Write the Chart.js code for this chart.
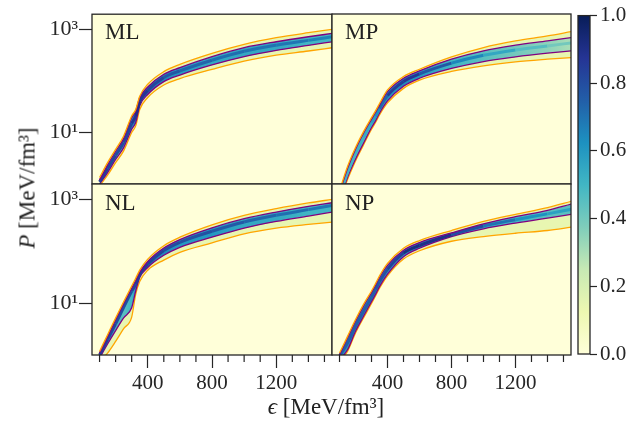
<!DOCTYPE html>
<html>
<head>
<meta charset="utf-8">
<script src="https://cdn.jsdelivr.net/npm/chart.js@4.4.1/dist/chart.umd.min.js"></script>
<style>
  body { margin: 0; background: #fff; }
  #wrap { position: relative; width: 630px; height: 423px; font-family: 'Liberation Serif', 'DejaVu Serif', serif; color: #222; }
  canvas { position: absolute; left: 0; top: 0; }
  .tag { position: absolute; font-size: 23px; line-height: 1; white-space: nowrap; }
  .title { position: absolute; font-size: 23px; line-height: 1; white-space: nowrap; }
  #ytitle { left: 27px; top: 188px; transform: translate(-50%, -50%) rotate(-90deg); }
  #xtitle { left: 326px; top: 395px; transform: translateX(-50%); }
</style>
</head>
<body>
<div id="wrap">
  <canvas id="ml" width="630" height="423"></canvas>
  <canvas id="mp" width="630" height="423"></canvas>
  <canvas id="nl" width="630" height="423"></canvas>
  <canvas id="np" width="630" height="423"></canvas>
  <canvas id="cb" width="630" height="423"></canvas>
  <div class="tag" style="left:105px;top:20px">ML</div>
  <div class="tag" style="left:345px;top:20px">MP</div>
  <div class="tag" style="left:105px;top:191px">NL</div>
  <div class="tag" style="left:345px;top:191px">NP</div>
  <div class="title" id="ytitle"><i>P</i> [MeV/fm³]</div>
  <div class="title" id="xtitle"><i>ϵ</i> [MeV/fm³]</div>
</div>
<script>
// energy density grid (MeV/fm^3) shared by every panel
const eps = [100, 150, 200, 250, 300, 325, 350, 400, 500, 600, 800, 1000, 1200, 1400, 1550];
const epsTicks = [100, 200, 300, 400, 500, 600, 700, 800, 900, 1000, 1100, 1200, 1300, 1400, 1500];
const epsLabels = [400, 800, 1200];
const pTicks = [10, 1000];
const pTickLabels = ['10¹', '10³'];
const cbTicks = [0, 0.2, 0.4, 0.6, 0.8, 1.0];
const ylgnbu = ['#ffffd9', '#edf8b1', '#c7e9b4', '#7fcdbb', '#41b6c4', '#1d91c0', '#225ea8', '#253494', '#081d58'];

// ML
const mlOuterHi = [1.34, 2.6, 4.7, 8.6, 21, 28, 51, 87, 153, 212, 347, 518, 698, 873, 1014];
const mlInnerHi = [1.2, 2.36, 4.3, 7.7, 19.5, 26, 48, 77, 136, 183, 299, 447, 583, 729, 847];
const mlInnerLo = [0.99, 1.67, 3.0, 5.1, 11.6, 15.6, 33, 55, 98, 131, 206, 299, 396, 495, 583];
const mlOuterLo = [0.92, 1.48, 2.6, 4.4, 10, 13.5, 28, 48, 84, 112, 169, 246, 321, 385, 447];
const mlRidge = [1.1, 2.0, 3.6, 6.4, 15, 21, 40, 66, 118, 158, 255, 380, 500, 620, 730];
const mlBand = [0.6, 0.6, 0.5, 0.5, 0.6, 0.7, 0.75, 0.7, 0.65, 0.6, 0.55, 0.55, 0.55, 0.5, 0.5];
const mlPeak = [0.85, 0.85, 0.8, 0.8, 0.85, 0.9, 0.9, 0.85, 0.8, 0.75, 0.72, 0.7, 0.7, 0.68, 0.65];

// MP
const mpOuterHi = [0.74, 2.18, 5.1, 10.4, 19.5, 26.3, 36.5, 67, 122, 169, 294, 447, 601, 752, 912];
const mpInnerHi = [0.68, 2.0, 4.74, 9.7, 18.1, 24.4, 33.9, 62, 113, 157, 265, 385, 495, 601, 698];
const mpInnerLo = [0.47, 1.34, 3.03, 6.2, 12.5, 16.8, 23.7, 41, 79, 113, 175, 239, 294, 347, 385];
const mpOuterLo = [0.44, 1.22, 2.81, 5.75, 11.6, 15.6, 22, 37.6, 72, 104, 153, 197, 235, 265, 286];
const mpRidge = [0.6, 1.65, 3.9, 7.9, 15.3, 20.5, 29, 52, 98, 137, 222, 315, 400, 480, 550];
const mpBand = [0.45, 0.45, 0.45, 0.45, 0.45, 0.5, 0.5, 0.6, 0.65, 0.6, 0.5, 0.45, 0.4, 0.35, 0.3];
const mpPeak = [0.5, 0.5, 0.5, 0.52, 0.55, 0.6, 0.65, 0.8, 0.9, 0.85, 0.7, 0.6, 0.5, 0.42, 0.38];

// NL
const nlOuterHi = [1.17, 2.47, 5.2, 10.7, 21.5, 30.3, 43.4, 71, 129, 188, 326, 495, 668, 861, 1014];
const nlInnerHi = [1.09, 2.26, 4.76, 9.75, 19.4, 27.7, 39.7, 64, 116, 169, 285, 427, 575, 741, 873];
const nlInnerLo = [0.87, 1.63, 2.96, 5.2, 8.2, 17.2, 31.3, 49, 84, 120, 188, 281, 379, 481, 575];
const nlOuterLo = [0.75, 1.09, 1.83, 3.23, 5.4, 14.8, 26.1, 43.4, 68, 96, 146, 218, 281, 331, 367];
const nlRidge = [1.0, 2.0, 4.0, 8.3, 17, 23, 36, 57, 104, 150, 245, 370, 500, 640, 770];
const nlBand = [0.55, 0.6, 0.5, 0.45, 0.5, 0.6, 0.7, 0.7, 0.65, 0.6, 0.6, 0.55, 0.55, 0.5, 0.5];
const nlPeak = [0.85, 0.85, 0.8, 0.8, 0.8, 0.85, 0.85, 0.85, 0.82, 0.8, 0.78, 0.75, 0.72, 0.7, 0.68];

// NP
const npOuterHi = [1.09, 2.29, 4.84, 9.5, 17.2, 23.9, 33.7, 58.6, 115, 162, 253, 379, 518, 698, 927];
const npInnerHi = [1.01, 2.13, 4.49, 8.8, 16, 22.2, 31.3, 53.6, 105, 148, 228, 341, 467, 619, 822];
const npInnerLo = [0.81, 1.26, 2.87, 5.6, 10.7, 14.8, 20.9, 36.3, 79, 115, 193, 273, 352, 440, 518];
const npOuterLo = [0.75, 1.17, 2.66, 5.2, 9.9, 13.8, 19.4, 33.7, 71, 103, 157, 193, 224, 253, 294];
const npRidge = [0.95, 1.7, 3.6, 7.0, 13, 18.5, 26, 45, 93, 130, 210, 310, 410, 530, 650];
const npBand = [0.6, 0.6, 0.6, 0.6, 0.6, 0.6, 0.6, 0.6, 0.6, 0.65, 0.6, 0.55, 0.5, 0.45, 0.45];
const npPeak = [0.75, 0.75, 0.75, 0.75, 0.75, 0.76, 0.78, 0.8, 0.88, 0.95, 0.85, 0.75, 0.65, 0.6, 0.55];

const ink = '#262626';
const orange = '#ffa500';
const purple = '#800080';

Chart.defaults.font.family = "'Liberation Serif', 'DejaVu Serif', serif";
Chart.defaults.font.size = 21;
Chart.defaults.color = ink;

const hexToRgb = h => [1, 3, 5].map(i => parseInt(h.slice(i, i + 2), 16));

// YlGnBu lookup, t in [0, 1]
const cmap = t => {
  const s = Math.min(1, Math.max(0, t)) * (ylgnbu.length - 1);
  const i = Math.min(Math.floor(s), ylgnbu.length - 2);
  const f = s - i;
  const a = hexToRgb(ylgnbu[i]);
  const b = hexToRgb(ylgnbu[i + 1]);
  const c = a.map((v, k) => Math.round(v + (b[k] - v) * f));
  return `rgb(${c[0]}, ${c[1]}, ${c[2]})`;
};

// zero-density background and the axes box
const frame = {
  id: 'frame',
  beforeDraw: (chart, args, opts) => {
    if (!opts.fill) return;
    const { ctx, chartArea: a } = chart;
    ctx.save();
    ctx.fillStyle = opts.fill;
    ctx.fillRect(a.left, a.top, a.right - a.left, a.bottom - a.top);
    ctx.restore();
  },
  afterDraw: chart => {
    const { ctx, chartArea: a } = chart;
    ctx.save();
    ctx.strokeStyle = ink;
    ctx.lineWidth = 1.3;
    ctx.strokeRect(a.left, a.top, a.right - a.left, a.bottom - a.top);
    ctx.restore();
  },
};

// short unlabelled ticks on the energy axis
const minorTicks = {
  id: 'minorTicks',
  afterDraw: chart => {
    const xs = chart.scales.x;
    if (!xs.options.display) return;
    const { ctx, chartArea: a } = chart;
    ctx.save();
    ctx.strokeStyle = ink;
    ctx.lineWidth = 1.2;
    ctx.beginPath();
    for (const v of epsTicks) {
      if (epsLabels.includes(v)) continue;
      const x = xs.getPixelForValue(v);
      ctx.moveTo(x, a.bottom);
      ctx.lineTo(x, a.bottom + 7);
    }
    ctx.stroke();
    ctx.restore();
  },
};

const toPoints = ys => eps.map((x, i) => ({ x, y: ys[i] }));

const makePanel = p => {
  const left = p.col === 0;
  const bottom = p.row === 1;

  // fill colour inside the inner contour follows the density along epsilon
  const bandFill = c => {
    const chart = c.chart;
    const a = chart.chartArea;
    if (!a || !chart.scales.x) return cmap(0.5);
    const xs = chart.scales.x;
    const g = chart.ctx.createLinearGradient(a.left, 0, a.right, 0);
    eps.forEach((e, i) => {
      const t = (xs.getPixelForValue(e) - a.left) / (a.right - a.left);
      g.addColorStop(Math.min(1, Math.max(0, t)), cmap(p.band[i]));
    });
    return g;
  };

  const line = { pointRadius: 0, cubicInterpolationMode: 'monotone', clip: 0 };

  new Chart(document.getElementById(p.id), {
    type: 'line',
    data: {
      datasets: [
        { ...line, data: toPoints(p.outerHi), borderColor: orange, borderWidth: 1.3, order: 1 },
        { ...line, data: toPoints(p.outerLo), borderColor: orange, borderWidth: 1.3, order: 6, fill: 0, backgroundColor: cmap(0.14) },
        { ...line, data: toPoints(p.innerHi), borderColor: purple, borderWidth: 1.3, order: 2 },
        { ...line, data: toPoints(p.innerLo), borderColor: purple, borderWidth: 1.3, order: 5, fill: 2, backgroundColor: bandFill },
        {
          ...line,
          data: toPoints(p.ridge),
          borderWidth: 3,
          order: 4,
          borderColor: cmap(0.8),
          segment: { borderColor: s => cmap((p.peak[s.p0DataIndex] + p.peak[s.p1DataIndex]) / 2) },
        },
      ],
    },
    options: {
      responsive: false,
      animation: false,
      events: [],
      layout: {
        padding: {
          left: left ? 0 : 332,
          right: left ? 298 : 59,
          top: bottom ? 184 : 14,
          bottom: bottom ? 28 : 239,
        },
      },
      plugins: { legend: { display: false }, tooltip: { enabled: false }, frame: { fill: ylgnbu[0] } },
      scales: {
        x: {
          type: 'linear',
          min: 53,
          max: 1547,
          display: bottom,
          afterBuildTicks: s => { s.ticks = epsTicks.map(value => ({ value })); },
          afterFit: s => { s.height = bottom ? 40 : 0; },
          ticks: { autoSkip: false, maxRotation: 0, padding: 3, callback: v => (epsLabels.includes(v) ? String(v) : '') },
          grid: {
            drawOnChartArea: false,
            tickLength: 13,
            tickWidth: 1.2,
            tickColor: c => (c.tick && epsLabels.includes(c.tick.value) ? ink : 'rgba(0,0,0,0)'),
          },
          border: { display: false },
        },
        y: {
          type: 'logarithmic',
          min: 1,
          max: 2000,
          display: left,
          afterBuildTicks: s => { s.ticks = pTicks.map(value => ({ value })); },
          afterFit: s => { s.width = left ? 92 : 0; },
          ticks: { padding: 1, font: { size: 22 }, callback: v => pTickLabels[pTicks.indexOf(v)] ?? '' },
          grid: { drawOnChartArea: false, tickLength: 13, tickWidth: 1.2, tickColor: ink },
          border: { display: false },
        },
      },
    },
    plugins: [frame, minorTicks],
  });
};

[
  { id: 'ml', col: 0, row: 0, outerHi: mlOuterHi, innerHi: mlInnerHi, innerLo: mlInnerLo, outerLo: mlOuterLo, ridge: mlRidge, band: mlBand, peak: mlPeak },
  { id: 'mp', col: 1, row: 0, outerHi: mpOuterHi, innerHi: mpInnerHi, innerLo: mpInnerLo, outerLo: mpOuterLo, ridge: mpRidge, band: mpBand, peak: mpPeak },
  { id: 'nl', col: 0, row: 1, outerHi: nlOuterHi, innerHi: nlInnerHi, innerLo: nlInnerLo, outerLo: nlOuterLo, ridge: nlRidge, band: nlBand, peak: nlPeak },
  { id: 'np', col: 1, row: 1, outerHi: npOuterHi, innerHi: npInnerHi, innerLo: npInnerLo, outerLo: npOuterLo, ridge: npRidge, band: npBand, peak: npPeak },
].forEach(makePanel);

// colour bar
new Chart(document.getElementById('cb'), {
  type: 'bar',
  data: {
    labels: [''],
    datasets: [{
      data: [1],
      borderWidth: 0,
      barPercentage: 1,
      categoryPercentage: 1,
      backgroundColor: c => {
        const a = c.chart.chartArea;
        if (!a) return cmap(0.5);
        const g = c.chart.ctx.createLinearGradient(0, a.bottom, 0, a.top);
        ylgnbu.forEach((col, i) => g.addColorStop(i / (ylgnbu.length - 1), col));
        return g;
      },
    }],
  },
  options: {
    responsive: false,
    animation: false,
    events: [],
    layout: { padding: { left: 578, right: 0, top: 14, bottom: 69 } },
    plugins: { legend: { display: false }, tooltip: { enabled: false }, frame: { fill: null } },
    scales: {
      x: { display: false, afterFit: s => { s.height = 0; } },
      y: {
        position: 'right',
        min: 0,
        max: 1,
        afterBuildTicks: s => { s.ticks = cbTicks.map(value => ({ value })); },
        afterFit: s => { s.width = 40; },
        ticks: { padding: 3, callback: v => v.toFixed(1) },
        grid: { drawOnChartArea: false, tickLength: 7, tickWidth: 1.2, tickColor: ink },
        border: { display: false },
      },
    },
  },
  plugins: [frame],
});
</script>
</body>
</html>
